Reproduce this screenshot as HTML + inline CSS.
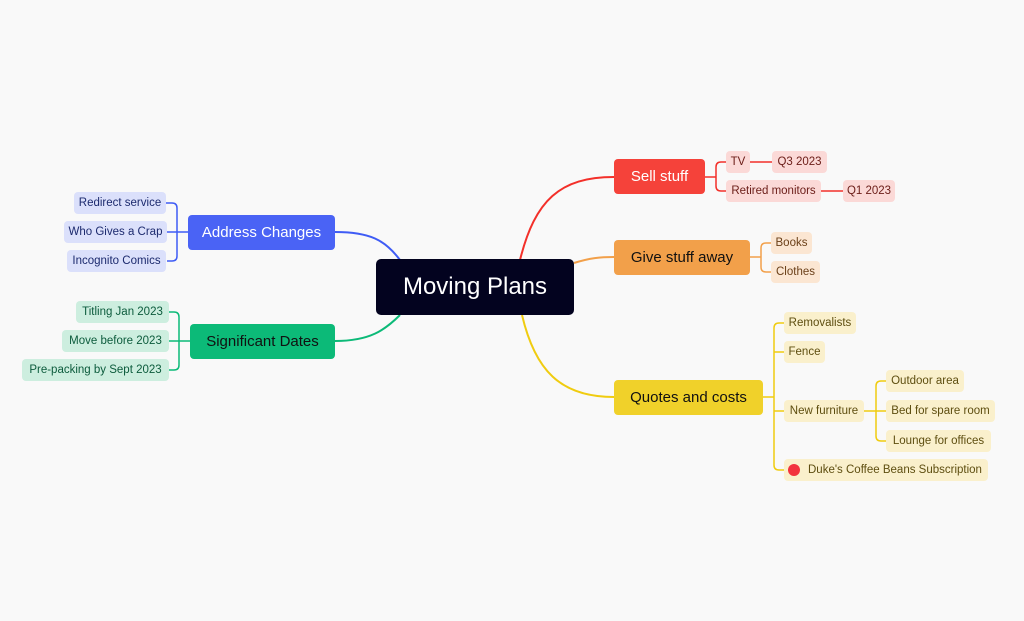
<!DOCTYPE html>
<html><head><meta charset="utf-8"><style>
body{margin:0;width:1024px;height:621px;background:#f9f9f9;position:relative;overflow:hidden;font-family:"Liberation Sans",sans-serif}
.n{position:absolute;box-sizing:border-box;display:flex;align-items:center;justify-content:center;border-radius:4px;white-space:nowrap}
.s{height:22px;font-size:11.5px;border-radius:4px}
.m{height:35px;font-size:15px}
svg{position:absolute;left:0;top:0}
.r{background:#fbd9d7;color:#6b1d18}.o{background:#fbe6d2;color:#6b4019}.y{background:#faf0cc;color:#5e4e10}.b{background:#dbe0fb;color:#1c2a6e}.g{background:#cdeedf;color:#0c5b3c}
</style></head><body>
<svg width="1024" height="621" fill="none" stroke-width="2">
<path d="M520 260 C535 200 560 177 614 177" stroke="#f3302a"/>
<path d="M574 263 C590 258 600 257 614 257" stroke="#f2a04a"/>
<path d="M522 315 C535 370 560 397 614 397" stroke="#f0cc10"/>
<path d="M400 260 C385 240 370 232 335 232" stroke="#3f5cf5"/>
<path d="M400 315 C385 330 370 341 335 341" stroke="#0cba78"/>
<g stroke="#f3302a" stroke-width="1.5"><path d="M705 177H716M726 162h-5q-5 0-5 5v19q0 5 5 5h5M750 162h22M821 191h22"/></g>
<g stroke="#f2a04a" stroke-width="1.5"><path d="M750 257H761M771 243h-5q-5 0-5 5v19q0 5 5 5h5"/></g>
<g stroke="#f0cc10" stroke-width="1.5"><path d="M763 397H774M784 323h-5q-5 0-5 5v137q0 5 5 5h5M774 352h10M774 411h10M864 411h22M886 381h-5q-5 0-5 5v50q0 5 5 5h5"/></g>
<g stroke="#3f5cf5" stroke-width="1.5"><path d="M188 232H177M166 203h6q5 0 5 5v48q0 5-5 5h-5M167 232h10"/></g>
<g stroke="#0cba78" stroke-width="1.5"><path d="M190 341H179M169 312h5q5 0 5 5v48q0 5-5 5h-5M169 341h10"/></g>
</svg>
<div class="n" style="left:376px;top:259px;width:198px;height:56px;background:#03031f;color:#fff;font-size:24px;border-radius:5px">Moving Plans</div>
<div class="n m" style="left:614px;top:159px;width:91px;background:#f5423a;color:#fff">Sell stuff</div>
<div class="n m" style="left:614px;top:240px;width:136px;background:#f2a04a;color:#111">Give stuff away</div>
<div class="n m" style="left:614px;top:380px;width:149px;background:#f0d12a;color:#111">Quotes and costs</div>
<div class="n m" style="left:188px;top:215px;width:147px;background:#4a63f5;color:#fff">Address Changes</div>
<div class="n m" style="left:190px;top:324px;width:145px;background:#0cba78;color:#111">Significant Dates</div>
<div class="n s r" style="left:726px;top:151px;width:24px">TV</div>
<div class="n s r" style="left:772px;top:151px;width:55px">Q3 2023</div>
<div class="n s r" style="left:726px;top:180px;width:95px">Retired monitors</div>
<div class="n s r" style="left:843px;top:180px;width:52px">Q1 2023</div>
<div class="n s o" style="left:771px;top:232px;width:41px">Books</div>
<div class="n s o" style="left:771px;top:261px;width:49px">Clothes</div>
<div class="n s y" style="left:784px;top:312px;width:72px">Removalists</div>
<div class="n s y" style="left:784px;top:341px;width:41px">Fence</div>
<div class="n s y" style="left:784px;top:400px;width:80px">New furniture</div>
<div class="n s y" style="left:886px;top:370px;width:78px">Outdoor area</div>
<div class="n s y" style="left:886px;top:400px;width:109px">Bed for spare room</div>
<div class="n s y" style="left:886px;top:430px;width:105px">Lounge for offices</div>
<div class="n s y" style="left:784px;top:459px;width:204px;justify-content:flex-start;padding-left:4px"><span style="width:12px;height:12px;border-radius:50%;background:#f2333d;display:inline-block;margin-right:8px"></span>Duke's Coffee Beans Subscription</div>
<div class="n s b" style="left:74px;top:192px;width:92px">Redirect service</div>
<div class="n s b" style="left:64px;top:221px;width:103px">Who Gives a Crap</div>
<div class="n s b" style="left:67px;top:250px;width:99px">Incognito Comics</div>
<div class="n s g" style="left:76px;top:301px;width:93px">Titling Jan 2023</div>
<div class="n s g" style="left:62px;top:330px;width:107px">Move before 2023</div>
<div class="n s g" style="left:22px;top:359px;width:147px">Pre-packing by Sept 2023</div>
</body></html>
